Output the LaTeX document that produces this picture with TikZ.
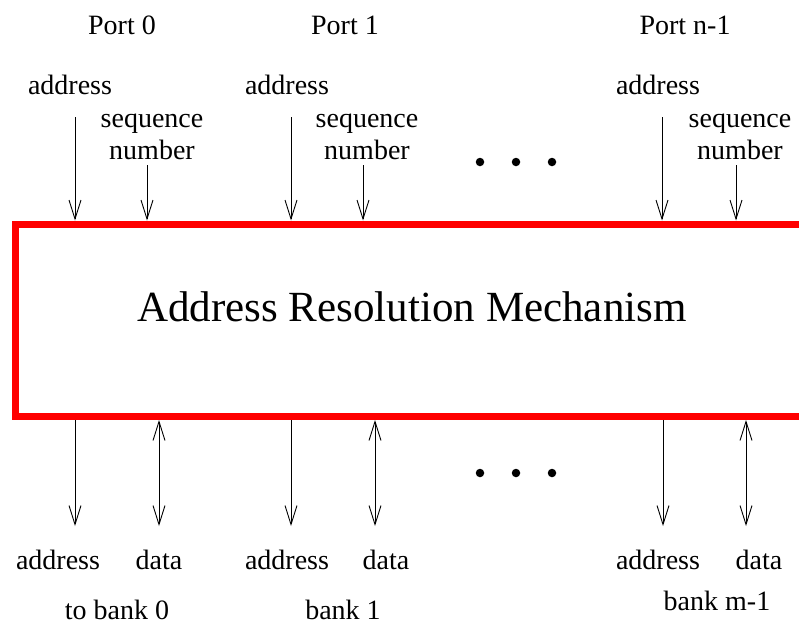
\documentclass[tikz,border=0pt]{standalone}
\usepackage{fontspec}
\setmainfont{Liberation Serif}
\usetikzlibrary{arrows.meta}
\begin{document}
\begin{tikzpicture}[x=1pt,y=-1pt,
  lbl/.style={font=\fontsize{28}{30}\selectfont, inner sep=0pt, align=center},
  arr/.style={line width=0.9pt, -{Straight Barb[length=19pt,width=12pt,line width=0.9pt]}},
  biarr/.style={line width=0.9pt, {Straight Barb[length=19pt,width=12pt,line width=0.9pt]}-{Straight Barb[length=19pt,width=12pt,line width=0.9pt]}},
  dot/.style={circle, fill=black, inner sep=0pt, minimum size=8.5pt}]
\clip (0,0) rectangle (799,625);

% main block (runs off the right edge)
\node[draw=red, line width=7pt, minimum width=804.5pt, minimum height=192.5pt, inner sep=0pt]
  (arm) at (417.75,320.25) {};
\node[font=\fontsize{43}{45}\selectfont, inner sep=0pt] (title) at (412,307) {Address Resolution Mechanism};

% port headings
\node[lbl] (p0) at (122,25) {Port 0};
\node[lbl] (p1) at (345,25) {Port 1};
\node[lbl] (pn) at (685,25) {Port n-1};

% input labels
\node[lbl] (ia0) at (70,85) {address};
\node[lbl] (ia1) at (287,85) {address};
\node[lbl] (ian) at (658,85) {address};
\node[lbl] (is0) at (152,137) {sequence\\[1.5pt]number};
\node[lbl] (is1) at (367,137) {sequence\\[1.5pt]number};
\node[lbl] (isn) at (740,137) {sequence\\[1.5pt]number};

% input arrows
\coordinate (ta0) at (75,117);
\coordinate (ts0) at (147,165);
\coordinate (ta1) at (291,117);
\coordinate (ts1) at (363,165);
\coordinate (tan) at (662,117);
\coordinate (tsn) at (736,165);
\foreach \c in {ta0,ts0,ta1,ts1,tan,tsn}
  \draw[arr] (\c) -- (\c |- arm.north);

% output arrows
\coordinate (ba0) at (75,526);
\coordinate (bd0) at (159,526);
\coordinate (ba1) at (291,526);
\coordinate (bd1) at (375,526);
\coordinate (ban) at (663,526);
\coordinate (bdn) at (746,526);
\foreach \c in {ba0,ba1,ban}
  \draw[arr] (\c |- arm.south) -- (\c);
\foreach \c in {bd0,bd1,bdn}
  \draw[biarr] (\c |- arm.south) -- (\c);

% output labels
\node[lbl] (oa0) at (58,560) {address};
\node[lbl] (od0) at (159,560) {data};
\node[lbl] (oa1) at (287,560) {address};
\node[lbl] (od1) at (386,560) {data};
\node[lbl] (oan) at (658,560) {address};
\node[lbl] (odn) at (759,560) {data};
\node[lbl] (bk0) at (117,610) {to bank 0};
\node[lbl] (bk1) at (343,610) {bank 1};
\node[lbl] (bkn) at (717,601) {bank m-1};

% ellipsis dots
\foreach \x/\n in {480/1,516/2,552/3} {
  \node[dot] (td\n) at (\x,162) {};
  \node[dot] (bd\n) at (\x,473) {};
}
\end{tikzpicture}
\end{document}
